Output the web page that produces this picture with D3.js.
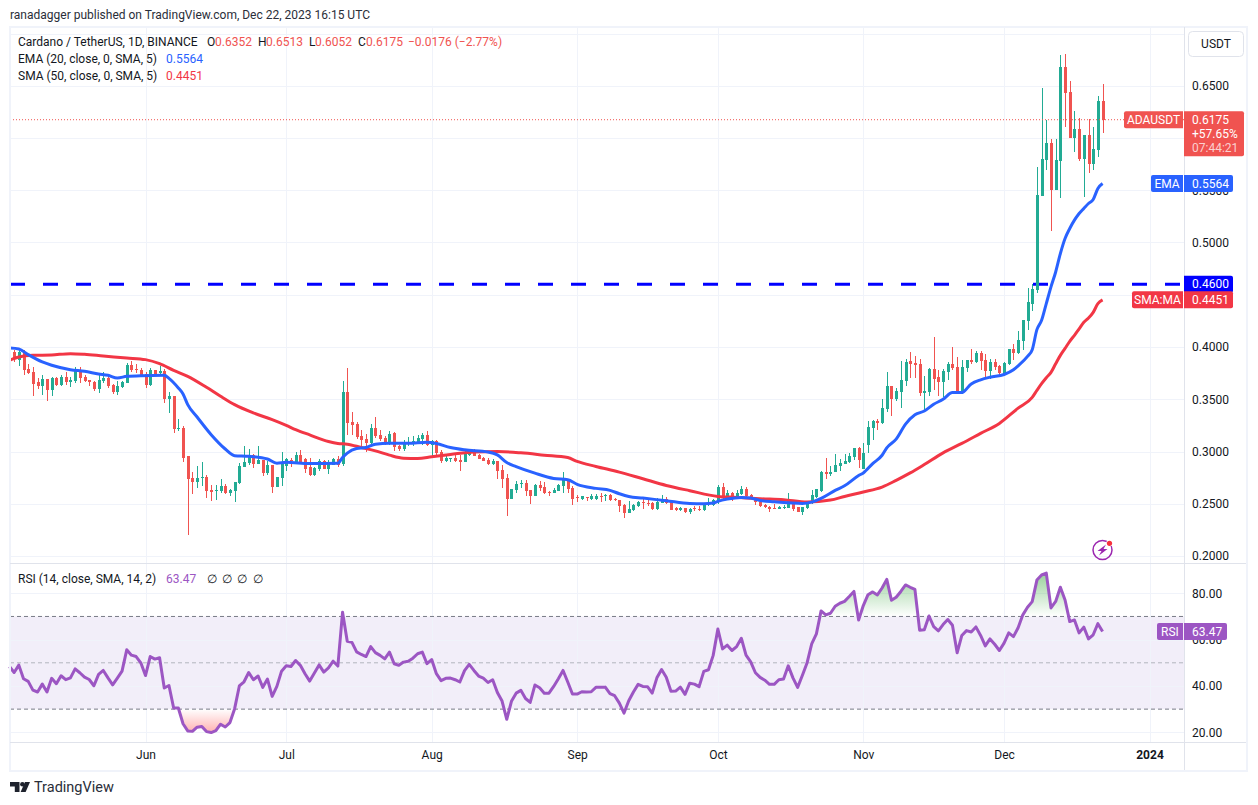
<!DOCTYPE html>
<html>
<head>
<meta charset="utf-8">
<title>ADAUSDT</title>
<script src="https://cdn.jsdelivr.net/npm/d3@7"></script>
<style>
  html, body { margin: 0; padding: 0; background: #fff; }
  svg { display: block; }
  text { font-family: Roboto, "Open Sans", sans-serif; }
</style>
</head>
<body>
<div id="chart"></div>
<script>
// Daily candles, one row per day: open, high, low, close. First row is 3 May 2023.
var candlesMay = [
  [.3911,.3955,.3904,.3949],[.3949,.3968,.3853,.3885],[.3873,.3968,.3815,.3949],[.3943,.3975,.3735,.3783],
  [.3793,.3841,.3739,.3751],[.3764,.3806,.3534,.3649],[.3662,.3707,.3598,.3630],[.3630,.3735,.3544,.3697],
  [.3694,.3697,.3487,.3592],[.3592,.3716,.3534,.3707],[.3707,.3713,.3630,.3640],[.3640,.3735,.3630,.3716],
  [.3713,.3761,.3636,.3668],[.3668,.3713,.3620,.3684],[.3678,.3809,.3652,.3783],[.3770,.3806,.3659,.3707],
  [.3716,.3735,.3668,.3678],[.3688,.3688,.3630,.3662],[.3668,.3678,.3576,.3601],[.3601,.3745,.3563,.3688],
  [.3678,.3761,.3659,.3707],[.3707,.3716,.3611,.3630],[.3640,.3649,.3554,.3573],[.3573,.3678,.3544,.3630],
  [.3620,.3678,.3611,.3668],[.3659,.3850,.3659,.3831],[.3831,.3866,.3764,.3783],[.3793,.3841,.3754,.3786],
  [.3783,.3802,.3713,.3719]
];
var candlesJun = [
  [.3745,.3764,.3611,.3640],[.3640,.3802,.3624,.3783],[.3783,.3783,.3742,.3745],[.3754,.3815,.3735,.3774],
  [.3774,.3793,.3467,.3506],[.3506,.3573,.3372,.3534],[.3534,.3534,.3180,.3219],[.3219,.3314,.3199,.3228],
  [.3228,.3247,.2903,.2941],[.2954,.2960,.2204,.2740],[.2750,.2807,.2597,.2711],[.2711,.2864,.2654,.2750],
  [.2750,.2903,.2673,.2759],[.2759,.2778,.2558,.2625],[.2635,.2683,.2530,.2616],[.2619,.2683,.2539,.2635],
  [.2622,.2740,.2606,.2673],[.2673,.2692,.2597,.2606],[.2606,.2644,.2577,.2635],[.2625,.2711,.2520,.2711],
  [.2702,.2893,.2692,.2864],[.2855,.3056,.2855,.2903],[.2893,.3027,.2874,.2970],[.2970,.2979,.2845,.2884],
  [.2884,.3056,.2884,.2922],[.2922,.2922,.2769,.2797],[.2797,.2912,.2778,.2874],[.2874,.2874,.2606,.2663],
  [.2663,.2759,.2663,.2759],[.2750,.2998,.2673,.2893]
];
var candlesJul = [
  [.2864,.2941,.2817,.2931],[.2922,.2941,.2855,.2912],[.2904,.2999,.2888,.2968],[.2968,.3016,.2888,.2904],
  [.2930,.2936,.2793,.2834],[.2847,.2942,.2767,.2777],[.2777,.2850,.2767,.2844],[.2834,.2930,.2818,.2910],
  [.2907,.2914,.2831,.2834],[.2834,.2920,.2786,.2888],[.2875,.2939,.2872,.2930],[.2933,.2958,.2856,.2872],
  [.2882,.3675,.2863,.3570],[.3570,.3799,.3159,.3273],[.3283,.3379,.3159,.3251],[.3264,.3283,.3117,.3137],
  [.3149,.3207,.3047,.3108],[.3121,.3168,.2999,.3082],[.3082,.3264,.3070,.3226],[.3226,.3331,.3130,.3149],
  [.3159,.3207,.3102,.3121],[.3130,.3149,.3060,.3073],[.3079,.3197,.3066,.3168],[.3178,.3187,.3006,.3044],
  [.3054,.3063,.3006,.3025],[.3025,.3111,.3006,.3073],[.3073,.3137,.3054,.3079],[.3070,.3149,.3054,.3102],
  [.3092,.3159,.3073,.3130],[.3121,.3178,.3063,.3159],[.3159,.3197,.3054,.3063]
];
var candlesAug = [
  [.3063,.3111,.2949,.3102],[.3102,.3111,.2968,.2987],[.2993,.3016,.2891,.2910],[.2910,.2977,.2901,.2939],
  [.2930,.2939,.2901,.2936],[.2939,.2968,.2901,.2910],[.2917,.2968,.2815,.2901],[.2901,.3025,.2901,.2987],
  [.2968,.3025,.2958,.3016],[.3016,.3025,.2958,.2958],[.2968,.2977,.2930,.2930],[.2939,.2949,.2910,.2910],
  [.2920,.2939,.2872,.2882],[.2882,.2930,.2872,.2910],[.2910,.2910,.2738,.2815],[.2824,.2872,.2652,.2738],
  [.2748,.2786,.2385,.2547],[.2547,.2643,.2547,.2643],[.2633,.2719,.2605,.2691],[.2687,.2729,.2652,.2700],
  [.2700,.2729,.2576,.2624],[.2633,.2633,.2499,.2576],[.2576,.2691,.2576,.2681],[.2681,.2719,.2624,.2652],
  [.2662,.2710,.2595,.2605],[.2614,.2624,.2576,.2608],[.2605,.2652,.2605,.2633],[.2624,.2691,.2624,.2681],
  [.2672,.2805,.2605,.2729],[.2729,.2729,.2605,.2643],[.2652,.2672,.2490,.2547]
];
var candlesSep = [
  [.2567,.2586,.2519,.2561],[.2548,.2577,.2539,.2570],[.2564,.2567,.2529,.2558],[.2548,.2596,.2539,.2577],
  [.2548,.2596,.2539,.2577],[.2577,.2605,.2519,.2567],[.2577,.2596,.2529,.2586],[.2586,.2596,.2529,.2539],
  [.2548,.2558,.2529,.2532],[.2539,.2539,.2424,.2481],[.2491,.2500,.2367,.2414],[.2414,.2529,.2414,.2452],
  [.2443,.2500,.2433,.2491],[.2481,.2529,.2472,.2519],[.2519,.2558,.2452,.2510],[.2510,.2539,.2481,.2500],
  [.2510,.2519,.2443,.2452],[.2452,.2558,.2443,.2519],[.2510,.2586,.2510,.2548],[.2548,.2567,.2500,.2510],
  [.2519,.2519,.2443,.2443],[.2462,.2472,.2433,.2443],[.2443,.2472,.2433,.2462],[.2462,.2462,.2414,.2424],
  [.2424,.2462,.2405,.2452],[.2462,.2481,.2433,.2452],[.2452,.2481,.2433,.2449],[.2443,.2500,.2433,.2488],
  [.2500,.2558,.2481,.2507],[.2491,.2548,.2481,.2539]
];
var candlesOct = [
  [.2529,.2682,.2500,.2663],[.2663,.2701,.2548,.2577],[.2577,.2634,.2558,.2605],[.2605,.2615,.2529,.2558],
  [.2577,.2634,.2558,.2605],[.2596,.2672,.2586,.2644],[.2644,.2663,.2567,.2577],[.2586,.2596,.2548,.2558],
  [.2558,.2567,.2491,.2519],[.2519,.2529,.2472,.2481],[.2491,.2500,.2462,.2472],[.2472,.2481,.2424,.2452],
  [.2462,.2500,.2452,.2452],[.2452,.2481,.2452,.2472],[.2462,.2491,.2452,.2472],[.2462,.2605,.2462,.2529],
  [.2519,.2529,.2433,.2452],[.2472,.2472,.2424,.2424],[.2424,.2472,.2395,.2472],[.2462,.2519,.2452,.2510],
  [.2510,.2634,.2500,.2586],[.2567,.2644,.2558,.2644],[.2625,.2816,.2615,.2806],[.2806,.2940,.2739,.2787],
  [.2787,.2863,.2768,.2806],[.2806,.2978,.2806,.2873],[.2863,.2930,.2816,.2892],[.2882,.2978,.2882,.2911],
  [.2902,.2988,.2892,.2959],[.2949,.3035,.2921,.3035],[.3035,.3045,.2844,.2921]
];
var candlesNov = [
  [.2830,.3077,.2830,.2984],[.3060,.3291,.2984,.3234],[.3224,.3301,.3109,.3291],[.3291,.3311,.3205,.3272],
  [.3272,.3503,.3262,.3416],[.3407,.3762,.3378,.3628],[.3628,.3628,.3339,.3503],[.3503,.3609,.3484,.3580],
  [.3570,.3868,.3416,.3686],[.3676,.3887,.3628,.3859],[.3868,.3955,.3705,.3839],[.3849,.3916,.3705,.3830],
  [.3839,.3887,.3532,.3560],[.3560,.3724,.3397,.3580],[.3570,.3801,.3532,.3791],[.3791,.4099,.3589,.3695],
  [.3714,.3782,.3532,.3666],[.3666,.3791,.3522,.3772],[.3762,.3859,.3686,.3839],[.3839,.4003,.3782,.3801],
  [.3811,.3907,.3551,.3560],[.3560,.3878,.3551,.3811],[.3801,.3878,.3762,.3878],[.3878,.3984,.3839,.3859],
  [.3859,.3964,.3849,.3945],[.3945,.3964,.3782,.3868],[.3878,.3936,.3714,.3772],[.3772,.3887,.3695,.3859],
  [.3859,.3887,.3782,.3811],[.3820,.3830,.3724,.3753]
];
var candlesDec = [
  [.3743,.3859,.3743,.3849],[.3839,.3984,.3830,.3984],[.3984,.4032,.3878,.3945],[.3945,.4157,.3936,.4070],
  [.4060,.4262,.3974,.4262],[.4253,.4560,.4166,.4435],[.4415,.4607,.4345,.4556],[.4543,.5725,.4517,.5453],
  [.5447,.6476,.5447,.5795],[.5789,.6172,.5693,.5952],[.5952,.5990,.5108,.5501],[.5501,.5990,.5501,.5789],
  [.5782,.6795,.5428,.6680],[.6680,.6805,.6108,.6434],[.6441,.6546,.5998,.5998],[.5998,.6258,.5865,.6086],
  [.6086,.6191,.5779,.5798],[.5798,.6028,.5437,.6028],[.6028,.6179,.5664,.5750],[.5750,.6105,.5693,.5894],
  [.5885,.6402,.5821,.6352],[.6352,.6513,.6052,.6175]
];

// RSI, read day by day from the lower pane.
var rsiMay = [48.4,45.8,49,43.1,42,38.2,37.4,40.8,37.4,43.3,41,44.4,42.7,43.5,47.4,45.7,43.8,42.8,40.1,45,46.7,43.5,40.5,43.4,46.4,55.6,53.3,52.7,50];
var rsiJun = [44.5,52.7,51.6,52.2,39.1,40.2,30.5,30.5,23.7,20.6,20.4,22.2,22.5,20.3,19.9,20.7,23.5,22.3,24.2,30.2,40,41.8,45.8,42.7,44.3,39.4,43,35.5,39.8,46.4];
var rsiJul = [48.7,48.4,51,48.9,45.3,42.1,45.6,49.1,46,47.8,50.7,48.6,71.8,59.3,58.8,54.7,53.6,52.7,57,54.4,53.2,51.7,54.6,49.6,48.9,50.3,50.7,52,53.9,54.6,49.6];
var rsiAug = [51.4,45.3,42.3,43.3,43.4,42.7,41.7,46.6,49.3,46.7,44.3,43.4,41.5,42.7,37.2,33.5,25.6,33.4,36.9,38.1,34.6,32.9,40.4,39.2,36.9,36.9,39.8,43.1,46.7,41.7,36.5];
var rsiSep = [36.5,37.5,37.4,37.5,39.4,39.4,39.5,36.7,35.8,32.6,28.3,33.6,37.4,40.7,39.8,39.7,36.9,43.5,47.1,43.8,37.7,37.8,39.5,36.4,41.2,40.8,39.7,46.3,47,53.2];
var rsiOct = [64.6,56,57.6,55.3,57,60.6,53.3,50.4,45.7,43.7,42.5,40.7,40.7,42.7,43,48.7,43.5,39.4,44.5,49.9,58.2,62.5,72.4,70.7,71.4,74.4,75.7,76.5,78.6,80.8,68.5];
var rsiNov = [74.7,79.4,80.6,79.3,82.3,86,77,78.3,80.8,83.6,82.6,81.7,64.1,64.3,70.2,65.6,63.8,66.5,68.7,66.2,54.3,61.8,63.9,63.3,65.5,61.8,57.3,60.3,58,55.3];
var rsiDec = [58.5,62.9,61.3,65.1,70.7,74,76.4,85.7,87.9,88.7,73.7,76.5,82.6,77.1,67.8,68.5,62.9,65.4,60.3,62.1,66.9,63.47];

// Moving averages, read at the dates where the line turns.
var emaDates = ["05-03","05-05","05-07","05-10","05-12","05-16","05-19","05-22","05-24","05-26","05-28","05-31","06-05","06-06","06-08","06-09","06-10","06-12","06-15","06-18","06-20","06-23","06-27","06-29","07-01","07-06","07-12","07-13","07-14","07-16","07-18","07-20","07-23","07-27","07-31","08-02","08-05","08-08","08-13","08-15","08-17","08-19","08-23","08-27","08-30","09-01","09-05","09-08","09-10","09-12","09-15","09-20","09-25","09-28","09-30","10-01","10-03","10-06","10-08","10-10","10-13","10-16","10-19","10-21","10-23","10-26","10-28","10-31","11-01","11-03","11-05","11-06","11-08","11-10","11-12","11-14","11-16","11-18","11-20","11-22","11-24","11-26","11-28","12-01","12-03","12-04","12-06","12-07","12-08","12-09","12-10","12-11","12-12","12-13","12-14","12-15","12-16","12-17","12-18","12-19","12-20","12-21","12-22"];
var emaValues = [.3990,.3981,.3927,.3857,.3825,.3783,.3767,.3742,.3729,.3703,.3719,.3726,.3729,.3700,.3608,.3550,.3448,.3330,.3161,.3024,.2960,.2954,.2928,.2887,.2896,.2885,.2888,.2942,.2984,.3028,.3038,.3070,.3079,.3079,.3089,.3076,.3038,.3016,.2996,.2968,.2894,.2856,.2793,.2742,.2729,.2686,.2647,.2628,.2596,.2570,.2554,.2529,.2503,.2500,.2507,.2523,.2545,.2561,.2554,.2532,.2519,.2510,.2503,.2516,.2552,.2628,.2672,.2770,.2795,.2884,.2964,.3035,.3118,.3262,.3352,.3387,.3452,.3500,.3564,.3564,.3647,.3686,.3711,.3737,.3782,.3820,.3910,.3974,.4166,.4255,.4415,.4575,.4718,.4894,.5038,.5134,.5214,.5278,.5326,.5373,.5412,.5517,.5564];
var smaDates = ["05-03","05-05","05-08","05-12","05-16","05-19","05-23","05-28","06-01","06-04","06-07","06-10","06-14","06-17","06-20","06-24","06-28","07-01","07-03","07-06","07-10","07-12","07-14","07-17","07-20","07-23","07-26","07-29","08-01","08-05","08-10","08-15","08-20","08-25","08-30","09-01","09-05","09-10","09-15","09-20","09-25","10-01","10-05","10-10","10-15","10-20","10-25","10-28","11-01","11-05","11-08","11-11","11-14","11-18","11-22","11-26","11-30","12-04","12-07","12-08","12-09","12-10","12-11","12-12","12-13","12-14","12-15","12-16","12-17","12-18","12-19","12-20","12-21","12-22"];
var smaValues = [.3873,.3904,.3920,.3924,.3936,.3930,.3914,.3895,.3879,.3841,.3777,.3719,.3614,.3528,.3448,.3369,.3305,.3250,.3209,.3159,.3095,.3076,.3070,.3038,.3006,.2965,.2936,.2933,.2949,.2971,.2996,.2999,.2987,.2965,.2942,.2905,.2857,.2803,.2739,.2675,.2625,.2570,.2561,.2548,.2539,.2516,.2535,.2570,.2612,.2660,.2724,.2795,.2875,.2987,.3077,.3173,.3269,.3415,.3518,.3585,.3649,.3706,.3757,.3840,.3920,.3987,.4054,.4112,.4173,.4236,.4278,.4332,.4415,.4451];

// Axis ticks
var priceGrid = [.20,.25,.30,.35,.40,.45,.50,.55,.60,.65,.70];
var priceTicks = [.20,.25,.30,.35,.40,.50,.55,.65];
var rsiTicks = [20,40,60,80];
var rsiBands = [30,50,70];
var monthTicks = ["2023-06-01","2023-07-01","2023-08-01","2023-09-01","2023-10-01","2023-11-01","2023-12-01","2024-01-01"];
var monthLabels = ["Jun","Jul","Aug","Sep","Oct","Nov","Dec","2024"];

// Levels and readouts
var supportLevel = 0.46;
var lastClose = 0.6175, lastEma = 0.5564, lastSma = 0.4451, lastRsi = 63.47;

// Colours
var upColor = "#22ab94", downColor = "#f05350", emaColor = "#2962ff", smaColor = "#f23645",
    rsiColor = "#9c56c3", gridColor = "#f0f3fa", frameColor = "#e0e3eb", textColor = "#131722";

var width = 1258, height = 805;
var plotLeft = 10, plotRight = 1184;

var parseDay = d3.utcParse("%Y-%m-%d");
var startDay = parseDay("2023-05-03");

var candles = [].concat(candlesMay, candlesJun, candlesJul, candlesAug, candlesSep, candlesOct, candlesNov, candlesDec)
  .map(function(r, i) {
    return { date: d3.utcDay.offset(startDay, i), open: r[0], high: r[1], low: r[2], close: r[3] };
  });
var rsi = [].concat(rsiMay, rsiJun, rsiJul, rsiAug, rsiSep, rsiOct, rsiNov, rsiDec)
  .map(function(v, i) { return { date: d3.utcDay.offset(startDay, i), value: v }; });
function zipLine(dates, values) {
  return dates.map(function(d, i) { return { date: parseDay("2023-" + d), value: values[i] }; });
}
var ema = zipLine(emaDates, emaValues);
var sma = zipLine(smaDates, smaValues);
var monthDates = monthTicks.map(parseDay);

// Scales
var x = d3.scaleUtc().domain([parseDay("2023-06-01"), parseDay("2024-01-01")]).range([145.5, 1149.5]);
var y = d3.scaleLinear().domain([0.2, 0.7]).range([556, 33.5]);
var yRsi = d3.scaleLinear().domain([20, 80]).range([732.3, 593.3]);

var svg = d3.select("#chart").append("svg")
  .attr("width", width).attr("height", height)
  .style("background", "#fff");

var defs = svg.append("defs");
defs.append("clipPath").attr("id", "clipPrice").append("rect")
  .attr("x", plotLeft).attr("y", 27).attr("width", plotRight - plotLeft).attr("height", 536);
defs.append("clipPath").attr("id", "clipAbove").append("rect")
  .attr("x", plotLeft).attr("y", 564).attr("width", plotRight - plotLeft).attr("height", yRsi(70) - 564);
defs.append("clipPath").attr("id", "clipBelow").append("rect")
  .attr("x", plotLeft).attr("y", yRsi(30)).attr("width", plotRight - plotLeft).attr("height", 742 - yRsi(30));

var gradAbove = defs.append("linearGradient").attr("id", "gradAbove")
  .attr("gradientUnits", "userSpaceOnUse").attr("x1", 0).attr("x2", 0)
  .attr("y1", yRsi(88)).attr("y2", yRsi(70));
gradAbove.append("stop").attr("offset", "0%").attr("stop-color", "#4caf50").attr("stop-opacity", 0.55);
gradAbove.append("stop").attr("offset", "100%").attr("stop-color", "#4caf50").attr("stop-opacity", 0);
var gradBelow = defs.append("linearGradient").attr("id", "gradBelow")
  .attr("gradientUnits", "userSpaceOnUse").attr("x1", 0).attr("x2", 0)
  .attr("y1", yRsi(30)).attr("y2", yRsi(20));
gradBelow.append("stop").attr("offset", "0%").attr("stop-color", "#ff5252").attr("stop-opacity", 0);
gradBelow.append("stop").attr("offset", "100%").attr("stop-color", "#ff5252").attr("stop-opacity", 0.45);

// Text helper
function label(parent, px, py, str, color, size, anchor, weight) {
  return parent.append("text")
    .attr("x", px).attr("y", py)
    .attr("dominant-baseline", "central")
    .attr("text-anchor", anchor || "start")
    .attr("font-size", size || 12)
    .attr("font-weight", weight || 400)
    .attr("fill", color || textColor)
    .text(str);
}

// Horizontal grid
var grid = svg.append("g").attr("shape-rendering", "crispEdges");
grid.selectAll(".gp").data(priceGrid).enter().append("line")
  .attr("x1", plotLeft).attr("x2", plotRight)
  .attr("y1", function(d) { return Math.round(y(d)) + 0.5; })
  .attr("y2", function(d) { return Math.round(y(d)) + 0.5; })
  .attr("stroke", gridColor);

// RSI band goes under its grid
svg.append("rect")
  .attr("x", plotLeft).attr("width", plotRight - plotLeft)
  .attr("y", yRsi(70)).attr("height", yRsi(30) - yRsi(70))
  .attr("fill", "#7e57c2").attr("fill-opacity", 0.1);

grid = svg.append("g").attr("shape-rendering", "crispEdges");
grid.selectAll(".gr").data(rsiTicks).enter().append("line")
  .attr("x1", plotLeft).attr("x2", plotRight)
  .attr("y1", function(d) { return Math.round(yRsi(d)) + 0.5; })
  .attr("y2", function(d) { return Math.round(yRsi(d)) + 0.5; })
  .attr("stroke", gridColor);
// Vertical grid runs through both panes
grid.selectAll(".gv").data(monthDates).enter().append("line")
  .attr("x1", function(d) { return Math.round(x(d)) + 0.5; })
  .attr("x2", function(d) { return Math.round(x(d)) + 0.5; })
  .attr("y1", 27).attr("y2", 742)
  .attr("stroke", gridColor);

// RSI dashed bands
svg.append("g").selectAll("line").data(rsiBands).enter().append("line")
  .attr("x1", plotLeft).attr("x2", plotRight)
  .attr("y1", function(d) { return yRsi(d); })
  .attr("y2", function(d) { return yRsi(d); })
  .attr("stroke", function(d) { return d === 50 ? "#b2b5be" : "#787b86"; })
  .attr("stroke-dasharray", "4 3");

// Support level
svg.append("line")
  .attr("x1", plotLeft).attr("x2", plotRight)
  .attr("y1", y(supportLevel)).attr("y2", y(supportLevel))
  .attr("stroke", "#0000ff").attr("stroke-width", 3)
  .attr("stroke-dasharray", "15 18");

// Candles
var priceLayer = svg.append("g").attr("clip-path", "url(#clipPrice)");
var candle = priceLayer.append("g").attr("shape-rendering", "crispEdges")
  .selectAll("g").data(candles).enter().append("g")
  .attr("fill", function(d) { return d.close >= d.open ? upColor : downColor; });
candle.append("rect")
  .attr("x", function(d) { return Math.round(x(d.date)); })
  .attr("width", 1)
  .attr("y", function(d) { return y(d.high); })
  .attr("height", function(d) { return y(d.low) - y(d.high); });
candle.append("rect")
  .attr("x", function(d) { return Math.round(x(d.date)) - 1; })
  .attr("width", 3)
  .attr("y", function(d) { return y(Math.max(d.open, d.close)); })
  .attr("height", function(d) { return Math.max(1, Math.abs(y(d.open) - y(d.close))); });

// Moving averages
var avgLine = d3.line()
  .x(function(d) { return x(d.date); })
  .y(function(d) { return y(d.value); })
  .curve(d3.curveMonotoneX);
priceLayer.append("path").datum(sma).attr("d", avgLine)
  .attr("fill", "none").attr("stroke", smaColor).attr("stroke-width", 3).attr("stroke-linejoin", "round");
priceLayer.append("path").datum(ema).attr("d", avgLine)
  .attr("fill", "none").attr("stroke", emaColor).attr("stroke-width", 3).attr("stroke-linejoin", "round");

// Last price dotted line
svg.append("line")
  .attr("x1", plotLeft).attr("x2", plotRight)
  .attr("y1", y(lastClose)).attr("y2", y(lastClose))
  .attr("stroke", downColor).attr("stroke-dasharray", "1 2");

// RSI fills and line
var rsiX = function(d) { return x(d.date); };
var rsiY = function(d) { return yRsi(d.value); };
svg.append("path").datum(rsi)
  .attr("d", d3.area().x(rsiX).y0(yRsi(70)).y1(rsiY))
  .attr("fill", "url(#gradAbove)").attr("clip-path", "url(#clipAbove)");
svg.append("path").datum(rsi)
  .attr("d", d3.area().x(rsiX).y0(yRsi(30)).y1(rsiY))
  .attr("fill", "url(#gradBelow)").attr("clip-path", "url(#clipBelow)");
svg.append("path").datum(rsi)
  .attr("d", d3.line().x(rsiX).y(rsiY))
  .attr("fill", "none").attr("stroke", rsiColor).attr("stroke-width", 3).attr("stroke-linejoin", "round");

// Frame and separators
var frame = svg.append("g").attr("shape-rendering", "crispEdges").attr("fill", "none");
frame.append("rect").attr("x", 9.5).attr("y", 26.5).attr("width", 1237).attr("height", 744)
  .attr("stroke", gridColor).attr("stroke-width", 2);
frame.append("line").attr("x1", 10).attr("x2", 1246).attr("y1", 563.5).attr("y2", 563.5).attr("stroke", frameColor);
frame.append("line").attr("x1", 10).attr("x2", 1246).attr("y1", 742.5).attr("y2", 742.5).attr("stroke", frameColor);
frame.append("line").attr("x1", 1184.5).attr("x2", 1184.5).attr("y1", 27).attr("y2", 770).attr("stroke", frameColor);

// Axes
var priceAxis = svg.append("g").attr("transform", "translate(1184,0)")
  .call(d3.axisRight(y).tickValues(priceTicks).tickFormat(d3.format(".4f")).tickSize(0).tickPadding(8));
var rsiAxis = svg.append("g").attr("transform", "translate(1184,0)")
  .call(d3.axisRight(yRsi).tickValues(rsiTicks).tickFormat(d3.format(".2f")).tickSize(0).tickPadding(8));
var timeAxis = svg.append("g").attr("transform", "translate(0,742)")
  .call(d3.axisBottom(x).tickValues(monthDates)
    .tickFormat(function(d, i) { return monthLabels[i]; }).tickSize(0).tickPadding(8));
[priceAxis, rsiAxis, timeAxis].forEach(function(a) {
  a.select(".domain").remove();
  a.selectAll("text")
    .style("font-family", "Roboto, 'Open Sans', sans-serif")
    .attr("font-size", 12).attr("fill", textColor);
});
timeAxis.selectAll("text").filter(function(d, i) { return i === monthLabels.length - 1; })
  .attr("font-weight", 700);

// Title line
label(svg, 10, 15, "ranadagger published on TradingView.com, Dec 22, 2023 16:15 UTC", "#2a2e39", 12);

// Legend
label(svg, 18, 42, "Cardano / TetherUS, 1D, BINANCE", textColor, 12);
[["O", 207], ["H", 258], ["L", 309], ["C", 358]].forEach(function(o) { label(svg, o[1], 42, o[0], textColor, 12); });
[["0.6352", 215], ["0.6513", 266], ["0.6052", 315], ["0.6175", 366], ["\u22120.0176 (\u22122.77%)", 408]]
  .forEach(function(o) { label(svg, o[1], 42, o[0], downColor, 12); });
label(svg, 18, 59, "EMA (20, close, 0, SMA, 5)", textColor, 12);
label(svg, 166, 59, d3.format(".4f")(lastEma), emaColor, 12);
label(svg, 18, 76, "SMA (50, close, 0, SMA, 5)", textColor, 12);
label(svg, 166, 76, d3.format(".4f")(lastSma), smaColor, 12);
label(svg, 18, 578.5, "RSI (14, close, SMA, 14, 2)", textColor, 12);
label(svg, 166, 578.5, d3.format(".2f")(lastRsi), rsiColor, 12);
[207, 222, 237, 253].forEach(function(px) { label(svg, px, 578.5, "\u2205", textColor, 12); });

// USDT button
svg.append("rect").attr("x", 1188.5).attr("y", 31.5).attr("width", 55).attr("height", 25).attr("rx", 4)
  .attr("fill", "#fff").attr("stroke", frameColor);
label(svg, 1216, 44, "USDT", textColor, 12, "middle");

// Tag on the price scale: label box on the left, value box on the right
function roundedLeft(px, py, w, h) {
  var p = d3.path();
  p.moveTo(px + w, py); p.lineTo(px + 2, py); p.arcTo(px, py, px, py + 2, 2);
  p.lineTo(px, py + h - 2); p.arcTo(px, py + h, px + 2, py + h, 2); p.lineTo(px + w, py + h); p.closePath();
  return p.toString();
}
function roundedRight(px, py, w, h) {
  var p = d3.path();
  p.moveTo(px, py); p.lineTo(px + w - 2, py); p.arcTo(px + w, py, px + w, py + 2, 2);
  p.lineTo(px + w, py + h - 2); p.arcTo(px + w, py + h, px + w - 2, py + h, 2); p.lineTo(px, py + h); p.closePath();
  return p.toString();
}
function tag(name, value, color, py, leftW, rightW, boxH) {
  var h = boxH || 17;
  if (name) {
    svg.append("path").attr("fill", color).attr("d", roundedLeft(1183 - leftW, py - 8.5, leftW, 17));
    label(svg, 1183 - leftW / 2, py, name, "#fff", 12, "middle");
  }
  svg.append("path").attr("fill", color).attr("d", roundedRight(1184, py - 8.5, rightW, h));
  label(svg, 1192, py, value, "#fff", 12);
}

tag("ADAUSDT", d3.format(".4f")(lastClose), downColor, y(lastClose), 59, 60, 45);
label(svg, 1192, 134, "+57.65%", "#fff", 12);
label(svg, 1192, 148, "07:44:21", "#fbd0cf", 12);
tag("EMA", d3.format(".4f")(lastEma), emaColor, y(lastEma), 32, 49);
tag(null, d3.format(".4f")(supportLevel), "#0000ff", y(supportLevel), 0, 49);
tag("SMA:MA", d3.format(".4f")(lastSma), smaColor, y(lastSma), 51, 49);
tag("RSI", d3.format(".2f")(lastRsi), rsiColor, yRsi(lastRsi), 26, 43);

// Lightning badge
var badge = svg.append("g").attr("transform", "translate(1102.5,550)");
badge.append("circle").attr("r", 9.5).attr("fill", "none")
  .attr("stroke", "#9c27b0").attr("stroke-width", 1.5);
badge.append("path").attr("fill", "#9c27b0").attr("d", "M3.5,-5.5 L-5,1 L-1,1 L-3.5,5.5 L5,-1 L1,-1 Z");
badge.append("circle").attr("cx", 7).attr("cy", -6.7).attr("r", 3.2).attr("fill", "#fff");
badge.append("circle").attr("cx", 7).attr("cy", -6.7).attr("r", 2.6).attr("fill", "#f7313d");

// TradingView mark
var mark = svg.append("g").attr("fill", "#1e222d");
mark.append("path").attr("d", "M10,782 L19.5,782 L19.5,792 L14.8,792 L14.8,786.5 L10,786.5 Z");
mark.append("circle").attr("cx", 22.4).attr("cy", 784.3).attr("r", 2.3);
mark.append("path").attr("d", "M30,782 L25.6,792 L20.6,792 L25,782 Z");
label(svg, 34, 787.5, "TradingView", "#2a2e39", 14.5);
</script>
</body>
</html>
